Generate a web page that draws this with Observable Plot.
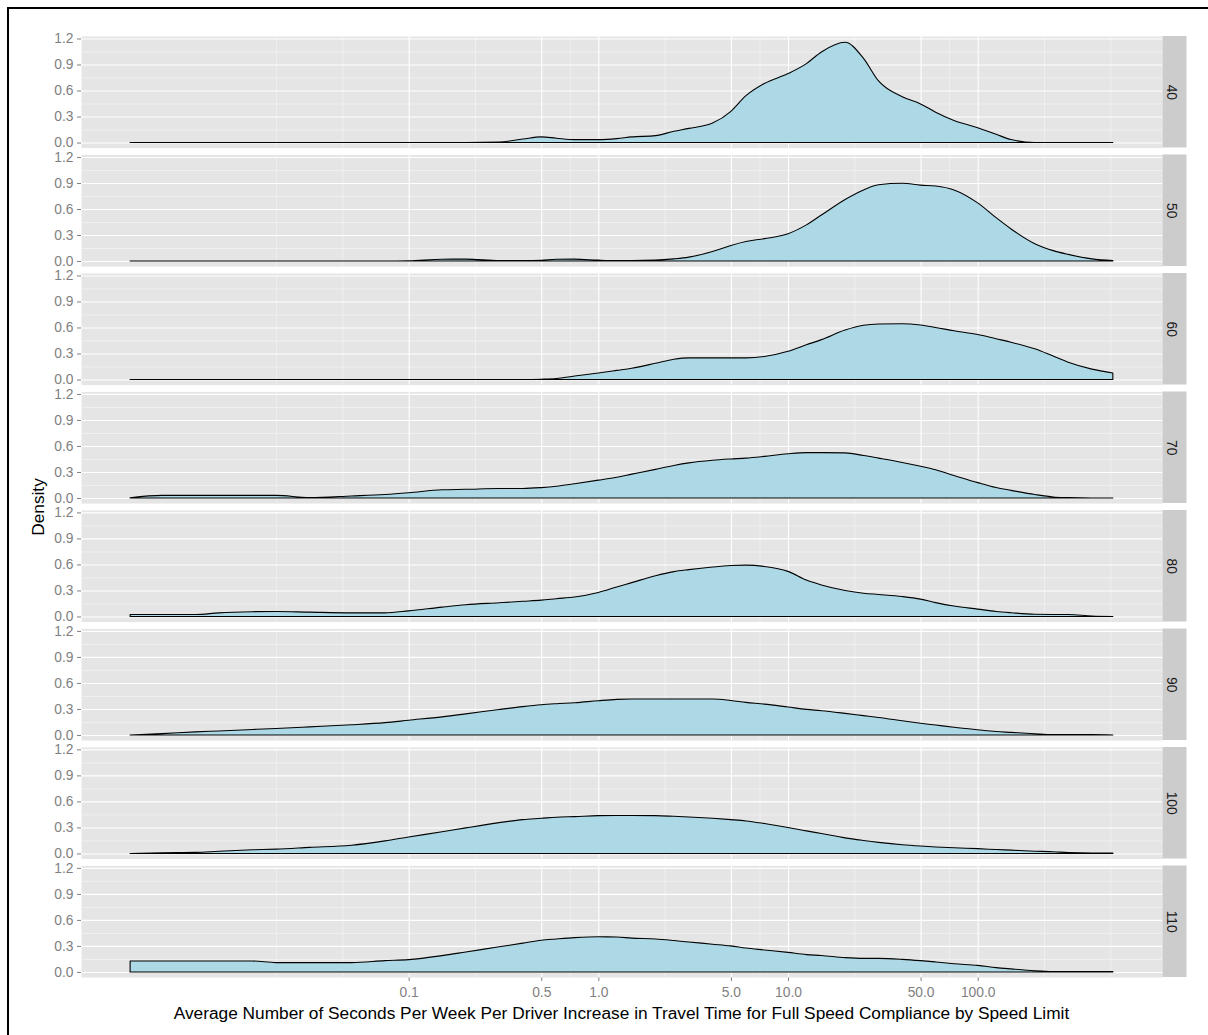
<!DOCTYPE html>
<html>
<head>
<meta charset="utf-8">
<script src="https://cdn.jsdelivr.net/npm/d3@7"></script>
<script src="https://cdn.jsdelivr.net/npm/@observablehq/plot@0.6"></script>
<style>
  body { margin: 0; background: #fff; font-family: "Liberation Sans", Arial, sans-serif; }
  #wrap { position: relative; width: 1208px; height: 1035px; overflow: hidden; }
  #border { position: absolute; left: 7px; top: 7px; width: 1300px; height: 1100px; border: 2px solid #000; box-sizing: border-box; pointer-events: none; }
  #chart { position: absolute; left: 0; top: 0; }
  #xtitle { position: absolute; left: 81px; width: 1081px; top: 1002px; height: 22px; line-height: 22px; text-align: center; font-size: 17.3px; color: #000; }
  #ytitle { position: absolute; left: -62px; top: 496px; width: 200px; height: 22px; line-height: 22px; text-align: center; font-size: 17.3px; color: #000; transform: rotate(-90deg); }
</style>
</head>
<body>
<div id="wrap">
  <div id="chart"></div>
  <div id="xtitle">Average Number of Seconds Per Week Per Driver Increase in Travel Time for Full Speed Compliance by Speed Limit</div>
  <div id="ytitle">Density</div>
  <div id="border"></div>
</div>
<script>
// Speed limits (facets)
const limits = ["40", "50", "60", "70", "80", "90", "100", "110"];

// x positions (seconds, log scale) at which density was read
const xGrid = [0.0034, 0.005, 0.0075, 0.01, 0.015, 0.02, 0.03, 0.05, 0.075, 0.1,
  0.15, 0.2, 0.3, 0.4, 0.5, 0.6, 0.75, 1, 1.25, 1.5,
  2, 2.5, 3, 4, 5, 6, 7.5, 10, 12.5, 15,
  20, 25, 30, 40, 50, 60, 75, 100, 125, 150,
  200, 250, 300, 400, 516];

const density40 = [0, 0, 0, 0, 0, 0, 0, 0, 0, 0,
  0, 0, 0.005, 0.04, 0.065, 0.05, 0.034, 0.034, 0.045, 0.065,
  0.08, 0.13, 0.163, 0.224, 0.36, 0.54, 0.68, 0.795, 0.91, 1.045,
  1.156, 0.97, 0.71, 0.528, 0.445, 0.35, 0.255, 0.171, 0.095, 0.034,
  0, 0, 0, 0, 0];
const density50 = [0, 0, 0, 0, 0, 0, 0, 0, 0, 0.003,
  0.02, 0.022, 0.005, 0.005, 0.008, 0.02, 0.022, 0.01, 0.005, 0.005,
  0.01, 0.025, 0.045, 0.11, 0.18, 0.225, 0.258, 0.315, 0.417, 0.53,
  0.71, 0.82, 0.88, 0.897, 0.875, 0.865, 0.82, 0.67, 0.5, 0.37,
  0.2, 0.12, 0.077, 0.025, 0.005];
const density60 = [0, 0, 0, 0, 0, 0, 0, 0, 0, 0,
  0, 0, 0, 0, 0.003, 0.01, 0.04, 0.075, 0.105, 0.13,
  0.187, 0.234, 0.25, 0.25, 0.25, 0.25, 0.265, 0.325, 0.4, 0.46,
  0.57, 0.625, 0.64, 0.643, 0.628, 0.6, 0.562, 0.519, 0.47, 0.43,
  0.354, 0.27, 0.2, 0.12, 0.075];
const density70 = [0.003, 0.03, 0.03, 0.03, 0.03, 0.03, 0.005, 0.023, 0.04, 0.06,
  0.095, 0.1, 0.11, 0.11, 0.12, 0.135, 0.165, 0.206, 0.24, 0.275,
  0.33, 0.375, 0.405, 0.435, 0.45, 0.46, 0.48, 0.51, 0.523, 0.523,
  0.52, 0.49, 0.46, 0.41, 0.365, 0.325, 0.26, 0.177, 0.12, 0.088,
  0.04, 0.012, 0.005, 0, 0];
const density80 = [0.023, 0.023, 0.023, 0.042, 0.055, 0.058, 0.05, 0.042, 0.042, 0.065,
  0.108, 0.135, 0.158, 0.175, 0.188, 0.205, 0.225, 0.277, 0.34, 0.39,
  0.47, 0.517, 0.54, 0.57, 0.587, 0.592, 0.577, 0.52, 0.42, 0.363,
  0.3, 0.268, 0.254, 0.23, 0.2, 0.16, 0.12, 0.085, 0.058, 0.043,
  0.025, 0.023, 0.023, 0.005, 0];
const density90 = [0, 0.015, 0.035, 0.046, 0.063, 0.075, 0.093, 0.117, 0.142, 0.17,
  0.209, 0.243, 0.294, 0.327, 0.348, 0.36, 0.372, 0.395, 0.41, 0.415,
  0.415, 0.415, 0.415, 0.415, 0.397, 0.376, 0.356, 0.322, 0.295, 0.28,
  0.249, 0.223, 0.202, 0.164, 0.135, 0.114, 0.088, 0.06, 0.04, 0.03,
  0.014, 0.005, 0.004, 0.004, 0];
const density100 = [0, 0.008, 0.012, 0.025, 0.042, 0.05, 0.07, 0.095, 0.145, 0.19,
  0.25, 0.295, 0.355, 0.39, 0.405, 0.418, 0.425, 0.436, 0.438, 0.438,
  0.436, 0.428, 0.42, 0.405, 0.39, 0.375, 0.345, 0.3, 0.26, 0.23,
  0.18, 0.15, 0.128, 0.1, 0.085, 0.075, 0.065, 0.055, 0.045, 0.038,
  0.026, 0.02, 0.01, 0.005, 0.005];
const density110 = [0.126, 0.126, 0.126, 0.126, 0.126, 0.107, 0.107, 0.107, 0.13, 0.142,
  0.188, 0.23, 0.29, 0.332, 0.366, 0.38, 0.395, 0.405, 0.403, 0.39,
  0.38, 0.362, 0.345, 0.32, 0.3, 0.275, 0.253, 0.225, 0.2, 0.19,
  0.165, 0.156, 0.156, 0.145, 0.13, 0.115, 0.095, 0.075, 0.05, 0.035,
  0.014, 0.005, 0.004, 0.004, 0.004];

const seriesByLimit = {
  "40": density40, "50": density50, "60": density60, "70": density70,
  "80": density80, "90": density90, "100": density100, "110": density110
};

// Tick labels
const xTicks = [0.1, 0.5, 1, 5, 10, 50, 100];
const xTickLabels = ["0.1", "0.5", "1.0", "5.0", "10.0", "50.0", "100.0"];
const xMinor = [0.02, 0.0447, 0.2236, 0.7071, 2.236, 7.071, 22.36, 70.71, 223.6, 500];
const yTicks = [0, 0.3, 0.6, 0.9, 1.2];
const yTickLabels = ["0.0", "0.3", "0.6", "0.9", "1.2"];
const yMinor = [0.15, 0.45, 0.75, 1.05];

// Scale extents (ggplot-style 5% expansion)
const xDomain = [0.001873, 936.9];
const yDomain = [-0.0585, 1.2285];

const rows = [];
for (const lim of limits) {
  const ys = seriesByLimit[lim];
  xGrid.forEach((x, i) => rows.push({limit: lim, x, density: ys[i]}));
}
const xLabelRows = xTicks.map((t, i) => ({x: t, label: xTickLabels[i], limit: limits[limits.length - 1]}));

const chart = Plot.plot({
  width: 1208,
  height: 1035,
  marginLeft: 81,
  marginRight: 46,
  marginTop: 36,
  marginBottom: 58,
  style: {
    fontFamily: "'Liberation Sans', Arial, sans-serif",
    fontSize: "13.8px",
    color: "#7F7F7F",
    background: "transparent",
    overflow: "visible"
  },
  x: {
    type: "log",
    domain: xDomain,
    ticks: xTicks,
    tickFormat: () => "",
    tickSize: 4,
    tickPadding: 7,
    label: null
  },
  y: {
    domain: yDomain,
    ticks: yTicks,
    tickFormat: d => yTickLabels[yTicks.indexOf(d)],
    tickSize: 4,
    tickPadding: 4,
    label: null
  },
  fy: {
    domain: limits,
    paddingInner: 0.058,
    paddingOuter: 0,
    round: false,
    axis: null,
    label: null
  },
  marks: [
    Plot.frame({fill: "#E5E5E5", stroke: "none"}),
    Plot.ruleY(yMinor, {y: d => d, stroke: "#F2F2F2", strokeWidth: 0.8}),
    Plot.ruleX(xMinor, {x: d => d, stroke: "#F2F2F2", strokeWidth: 0.8}),
    Plot.ruleY(yTicks, {y: d => d, stroke: "#FFFFFF", strokeWidth: 1.1}),
    Plot.ruleX(xTicks, {x: d => d, stroke: "#FFFFFF", strokeWidth: 1.1}),
    Plot.areaY(rows, {
      x: "x", y: "density", fy: "limit",
      fill: "#ADD8E6", stroke: "#000000", strokeWidth: 1.1,
      curve: "monotone-x"
    }),
    Plot.ruleX(limits, {
      x: () => xDomain[1], y1: () => yDomain[0], y2: () => yDomain[1], fy: d => d,
      stroke: "#CCCCCC", strokeWidth: 24, dx: 12
    }),
    Plot.text(limits, {
      x: () => xDomain[1], y: () => (yDomain[0] + yDomain[1]) / 2, fy: d => d,
      text: d => d, rotate: 90, dx: 9, fill: "#1A1A1A", fontSize: 13.8
    }),
    Plot.text(xLabelRows, {
      x: "x", y: () => yDomain[0], fy: "limit", text: "label",
      lineAnchor: "top", dy: 10, fill: "#7F7F7F", fontSize: 13.8
    })
  ]
});

document.getElementById("chart").appendChild(chart);
</script>
</body>
</html>
